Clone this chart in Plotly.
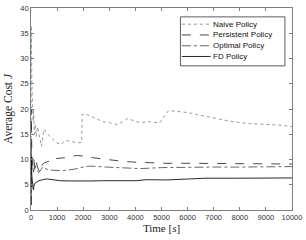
import plotly.graph_objects as go

# ---- data ----
naive_t = [0, 10, 25, 40, 60, 80, 100, 130, 160, 200, 250, 300, 350, 400, 450, 500, 600, 725, 850,
           980, 1100, 1170, 1300, 1420, 1550, 1700, 1800, 1940, 1960, 2050, 2370, 2750, 3000, 3320,
           3700, 4160, 4540, 4920, 5270, 5690, 6000, 6450, 7000, 7600, 8360, 9120, 9600, 10000]
naive_v = [1.0, 36.5, 30, 24, 19, 17.5, 20, 15, 17, 14.5, 16.5, 15, 14, 12.6, 14.5, 16, 15.2, 14.6, 14,
           13.3, 13.1, 13.0, 13.8, 13.7, 13.6, 13.4, 13.3, 13.4, 18.9, 19.1, 18.4, 17.5, 17.3, 16.9,
           18.1, 17.3, 17.5, 17.2, 19.7, 19.5, 19.3, 18.8, 18.2, 17.6, 17.1, 17.0, 16.8, 16.5]

pers_t = [0, 10, 30, 60, 100, 150, 200, 250, 340, 430, 530, 725, 850, 980, 1300, 1740, 2000, 2380,
          2890, 3400, 3900, 4420, 5180, 6070, 7000, 8000, 9000, 10000]
pers_v = [1.0, 20, 12, 9, 10.5, 8, 9.5, 8.5, 7.4, 9, 9.4, 9.7, 9.4, 10.2, 10.35, 10.8, 10.7, 10.35,
          10.0, 9.7, 9.5, 9.4, 9.25, 9.25, 9.2, 9.2, 9.15, 9.1]

opt_t = [0, 10, 30, 60, 100, 150, 200, 300, 450, 600, 725, 1230, 1680, 2000, 2250, 2890, 3520, 4160,
         5040, 6070, 7000, 8000, 9000, 10000]
opt_v = [1.0, 12, 8, 9.5, 7.5, 9, 8, 7.4, 8.5, 8.1, 7.9, 7.8, 8.1, 8.5, 8.7, 8.5, 8.3, 8.2,
         8.4, 8.5, 8.5, 8.5, 8.55, 8.6]

fd_t = [0, 10, 30, 60, 90, 130, 200, 300, 450, 600, 850, 1100, 1500, 1870, 2300, 2750, 3300, 4030,
        4420, 5180, 6070, 6700, 8000, 9000, 10000]
fd_v = [1.0, 10.5, 7, 5, 4.0, 5.2, 5.5, 5.8, 6.0, 6.15, 6.0, 5.8, 5.75, 5.7, 5.75, 5.8, 5.8, 5.8,
        6.0, 5.95, 6.15, 6.3, 6.3, 6.35, 6.35]

names = ["Naive Policy", "Persistent Policy", "Optimal Policy", "FD Policy"]
x_ticks = [0, 1000, 2000, 3000, 4000, 5000, 6000, 7000, 8000, 9000, 10000]
y_ticks = [0, 5, 10, 15, 20, 25, 30, 35, 40]

dashes = ["dot", "dash", "dashdot", "solid"]
colors = ["#8c8c8c", "#333333", "#555555", "#111111"]
series = [(naive_t, naive_v), (pers_t, pers_v), (opt_t, opt_v), (fd_t, fd_v)]

fig = go.Figure()
for (t, v), nm, dash, col in zip(series, names, dashes, colors):
    fig.add_trace(go.Scatter(x=t, y=v, mode="lines", name=nm, showlegend=False,
                             line=dict(dash=dash, color=col, width=0.9)))

# ---- compact legend box (MATLAB-like), built from names/styles ----
box = dict(x0=0.5725, x1=0.973, y0=0.7136, y1=0.956)
fig.add_shape(type="rect", xref="paper", yref="paper", **box,
              line=dict(color="#333333", width=0.8), fillcolor="white", layer="above")
row_y = [0.9199, 0.8665, 0.8130, 0.7600]
for nm, dash, col, ry in zip(names, dashes, colors, row_y):
    fig.add_shape(type="line", xref="paper", yref="paper", x0=0.578, x1=0.688, y0=ry, y1=ry,
                  line=dict(dash=dash, color=col, width=0.9), layer="above")
    fig.add_annotation(xref="paper", yref="paper", x=0.690, y=ry, text=nm, showarrow=False,
                       xanchor="left", yanchor="middle",
                       font=dict(family="Liberation Sans", size=8, color="#111111"))

axis_common = dict(showline=True, linecolor="#7f7f7f", linewidth=0.8, mirror="ticks",
                   ticks="inside", ticklen=3, tickcolor="#7f7f7f", tickwidth=0.8,
                   showgrid=False, zeroline=False, ticklabeloverflow="allow",
                   tickfont=dict(family="Liberation Sans", size=7.5, color="#333333"))

fig.update_layout(
    width=306, height=240,
    margin=dict(l=31, r=13, t=4, b=30),
    paper_bgcolor="white", plot_bgcolor="white",
    xaxis=dict(range=[0, 10000], tickvals=x_ticks, ticktext=[str(v) for v in x_ticks],
               title=dict(text="Time [<i>s</i>]", standoff=3,
                          font=dict(family="Liberation Serif", size=11, color="#222222")),
               **axis_common),
    yaxis=dict(range=[0, 40], tickvals=y_ticks, ticktext=[str(v) for v in y_ticks],
               title=dict(text="Average Cost <i>J</i>", standoff=5,
                          font=dict(family="Liberation Serif", size=11.5, color="#222222")),
               **axis_common),
    showlegend=False,
)

fig.write_html("out.html", config={"displayModeBar": False},
               post_script="document.body.style.margin='0';document.body.style.padding='0';")
